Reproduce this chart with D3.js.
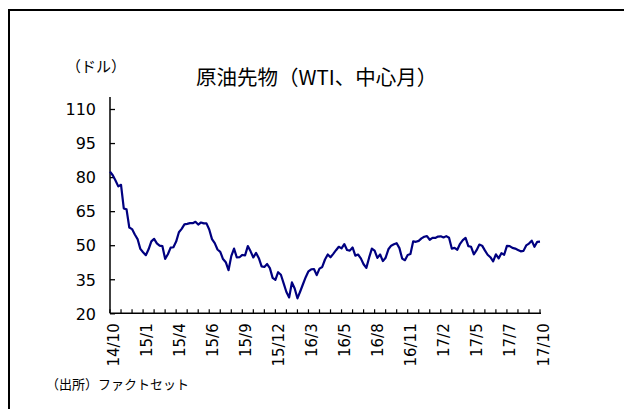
<!DOCTYPE html>
<html>
<head>
<meta charset="utf-8">
<script src="https://cdn.jsdelivr.net/npm/d3@7"></script>
<style>
  html, body { margin: 0; padding: 0; background: #fff; }
  svg { display: block; }
  text { font-family: "Noto Sans CJK JP", "Noto Sans", sans-serif; fill: #000; }
</style>
</head>
<body>
<svg id="chart" width="624" height="409"></svg>
<script>
// Weekly WTI front-month values (USD), late Oct 2014 – Oct 2017
const prices2014 = [82.4, 80.8, 78.5, 75.9, 76.6, 66.2, 65.8, 57.8, 57.1, 54.7];
const prices2015 = [
  52.7, 48.4, 46.9, 45.6, 48.2, 51.7, 52.8, 50.8, 49.8, 49.6, 44.0, 46.0, 48.9,
  49.1, 51.6, 55.7, 57.2, 59.2, 59.4, 59.7, 59.7, 60.3, 59.1, 60.0, 59.6, 59.6,
  56.9, 52.7, 50.9, 48.1, 47.1, 43.9, 42.5, 39.0, 45.2, 48.5, 44.6, 44.7, 45.7,
  45.5, 49.6, 47.3, 44.6, 46.6, 44.3, 40.7, 40.4, 41.7, 39.9, 35.6, 34.7, 38.1, 37.0
];
const prices2016 = [
  33.2, 29.4, 27.0, 33.6, 30.9, 26.6, 29.6, 32.8, 35.9, 38.5, 39.4, 39.5, 36.8,
  39.7, 40.4, 43.7, 45.9, 44.7, 46.2, 47.8, 49.3, 48.6, 50.5, 47.9, 47.6, 49.0,
  45.4, 45.9, 44.2, 41.6, 40.0, 44.5, 48.5, 47.6, 44.4, 45.9, 43.0, 44.5, 48.2,
  49.8, 50.4, 50.9, 48.7, 44.1, 43.4, 45.7, 46.1, 51.7, 51.5, 51.9, 53.0, 53.7
];
const prices2017 = [
  54.0, 52.4, 53.2, 53.2, 53.8, 53.9, 53.4, 54.0, 53.3, 48.5, 48.8, 48.0, 50.6,
  52.2, 53.2, 49.6, 49.3, 46.0, 47.8, 50.3, 49.8, 47.7, 45.8, 44.7, 42.9, 46.0,
  44.2, 46.5, 45.8, 49.7, 49.6, 48.8, 48.5, 47.9, 47.3, 47.5, 49.9, 50.7, 52.0,
  49.3, 51.5, 51.6
];
const prices = [...prices2014, ...prices2015, ...prices2016, ...prices2017];

const xLabels = ["14/10", "15/1", "15/4", "15/6", "15/9", "15/12", "16/3",
                 "16/5", "16/8", "16/11", "17/2", "17/5", "17/7", "17/10"];
const yTicks = [20, 35, 50, 65, 80, 95, 110];

const title = "原油先物（WTI、中心月）";
const unitLabel = "（ドル）";
const sourceLabel = "（出所）ファクトセット";

const svg = d3.select("#chart");

// frame
svg.append("path")
  .attr("d", "M9,409 L9,10 L624,10")
  .attr("fill", "none").attr("stroke", "#000").attr("stroke-width", 2);

const x0 = 110, x1 = 540, yBottom = 313.3, yTop = 109;
const n = prices.length;
const x = d3.scaleLinear().domain([0, n - 1]).range([x0, x1]);
const y = d3.scaleLinear().domain([20, 110]).range([yBottom, yTop]);

// y axis
const yAxis = d3.axisLeft(y).tickValues(yTicks).tickSize(-5).tickPadding(13).tickFormat(d3.format("d"));
const gy = svg.append("g").attr("transform", `translate(${x0},0)`).call(yAxis);
gy.attr("font-size", null).attr("font-family", null);
gy.select(".domain").remove();
gy.selectAll(".tick line").attr("stroke", "#000").attr("stroke-width", 1.3);
gy.selectAll(".tick text")
  .attr("x", -14)
  .attr("dy", "0.36em")
  .style("font-size", "16px").style("font-family", "'DejaVu Sans', sans-serif");
svg.append("line").attr("x1", x0).attr("x2", x0).attr("y1", 97).attr("y2", yBottom)
  .attr("stroke", "#000").attr("stroke-width", 1.5);

// x axis
const tickIdx = d3.range(0, n, 4);
const gx = svg.append("g").attr("transform", `translate(0,${yBottom})`);
gx.append("line").attr("x1", x0).attr("x2", x1 + 1).attr("y1", 0).attr("y2", 0)
  .attr("stroke", "#000").attr("stroke-width", 1.5);
gx.selectAll("line.tk").data(tickIdx).enter().append("line").attr("class", "tk")
  .attr("x1", d => x(d)).attr("x2", d => x(d)).attr("y1", 0).attr("y2", -4)
  .attr("stroke", "#000").attr("stroke-width", 1.2);
gx.selectAll("text.xl").data(xLabels).enter().append("text").attr("class", "xl")
  .attr("transform", (d, i) => `translate(${x(i * 12) + 8.5},10) rotate(-90)`)
  .attr("text-anchor", "end")
  .style("font-size", "15px")
  .style("font-family", "'DejaVu Sans', sans-serif")
  .text(d => d);

// line
const line = d3.line().x((d, i) => x(i)).y(d => y(d)).curve(d3.curveLinear);
svg.append("path").datum(prices)
  .attr("d", line).attr("fill", "none")
  .attr("stroke", "#000080").attr("stroke-width", 2.2).attr("stroke-linejoin", "round");

// texts
svg.append("text").attr("x", 196).attr("y", 85).style("font-size", "20.5px").text(title);
svg.append("text").attr("x", 66).attr("y", 72).style("font-size", "15px").text(unitLabel);
svg.append("text").attr("x", 46).attr("y", 389).style("font-size", "13px").text(sourceLabel);
</script>
</body>
</html>
